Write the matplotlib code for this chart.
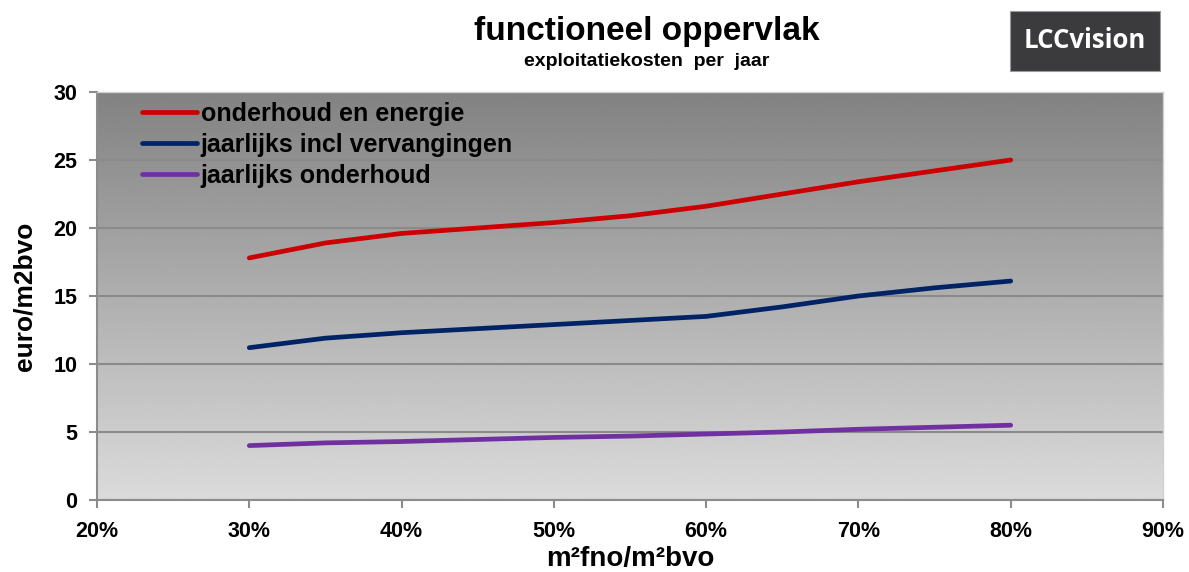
import matplotlib.pyplot as plt
import numpy as np
from matplotlib.patches import Rectangle
from matplotlib.ticker import FuncFormatter

plt.rcParams["font.family"] = ["Liberation Sans", "DejaVu Sans"]

# m2 fno / m2 bvo ratio (fraction)
ratio = [0.30, 0.35, 0.40, 0.45, 0.50, 0.55, 0.60, 0.65, 0.70, 0.75, 0.80]
onderhoud_energie = [17.8, 18.9, 19.6, 20.0, 20.4, 20.9, 21.6, 22.5, 23.4, 24.2, 25.0]
incl_vervangingen = [11.2, 11.9, 12.3, 12.6, 12.9, 13.2, 13.5, 14.2, 15.0, 15.6, 16.1]
jaarlijks_onderhoud = [4.0, 4.2, 4.3, 4.45, 4.6, 4.7, 4.85, 5.0, 5.2, 5.35, 5.5]

series_names = ["onderhoud en energie", "jaarlijks incl vervangingen", "jaarlijks onderhoud"]
series_colors = ["#cc0000", "#002366", "#7030a0"]

fig = plt.figure(figsize=(11.89, 5.72), dpi=100)
ax = fig.add_axes([97 / 1189, 1 - 500 / 572, 1066 / 1189, 408 / 572])

# vertical grey gradient background, darker at the top
grad = np.linspace(0.86, 0.51, 256).reshape(-1, 1)
ax.imshow(grad, cmap="gray", vmin=0, vmax=1, aspect="auto", extent=[0, 1, 0, 1],
          transform=ax.transAxes, origin="lower", zorder=0)

for vals, name, col in zip([onderhoud_energie, incl_vervangingen, jaarlijks_onderhoud], series_names, series_colors):
    ax.plot(ratio, vals, color=col, lw=3.4, solid_capstyle="round", solid_joinstyle="round", label=name, zorder=3)

ax.set_xlim(0.2, 0.9)
ax.set_ylim(0, 30)
ax.set_xticks(np.arange(0.2, 0.91, 0.1))
ax.set_yticks(range(0, 31, 5))
ax.xaxis.set_major_formatter(FuncFormatter(lambda v, _: f"{v * 100:.0f}%"))
ax.grid(axis="y", color="#8a8a8a", lw=1.5, zorder=1)
for sp in ["left", "bottom"]:
    ax.spines[sp].set_color("#8c8c8c")
    ax.spines[sp].set_linewidth(1.5)
for sp in ["top", "right"]:
    ax.spines[sp].set_color("#d0d0d0")
    ax.spines[sp].set_linewidth(1.0)
ax.tick_params(axis="both", direction="out", length=6, width=1.5, color="#8c8c8c",
               labelsize=15.5)
for lab in ax.get_xticklabels() + ax.get_yticklabels():
    lab.set_fontweight("bold")
ax.tick_params(axis="x", pad=9)
ax.tick_params(axis="y", pad=8)

ax.set_ylabel("euro/m2bvo", fontsize=19, fontweight="bold", labelpad=12)
ax.set_xlabel("m²fno/m²bvo", fontsize=20, fontweight="bold", labelpad=3)

leg = ax.legend(loc="upper left", bbox_to_anchor=(0.042, 0.975), frameon=False,
                prop={"size": 18, "weight": "bold"}, handlelength=2.2, handletextpad=0.15,
                labelspacing=0.28, borderpad=0, borderaxespad=0)

fig.text(0.544, 0.945, "functioneel oppervlak", ha="center", va="center",
         fontsize=24, fontweight="bold")
fig.text(0.544, 0.893, "exploitatiekosten  per  jaar", ha="center", va="center",
         fontsize=14, fontweight="bold")

fig.patches.append(Rectangle((1010 / 1189, 1 - 71 / 572), 150 / 1189, 60 / 572,
                             transform=fig.transFigure, facecolor="#3b3b3d",
                             edgecolor="#9a9a9a", lw=0.8))
fig.text(1085 / 1189, 1 - 41 / 572, "LCCvision", ha="center", va="center",
         fontsize=18.5, fontweight="bold", color="white", family=["Open Sans", "DejaVu Sans"])

fig.savefig("out.png", dpi=100)
